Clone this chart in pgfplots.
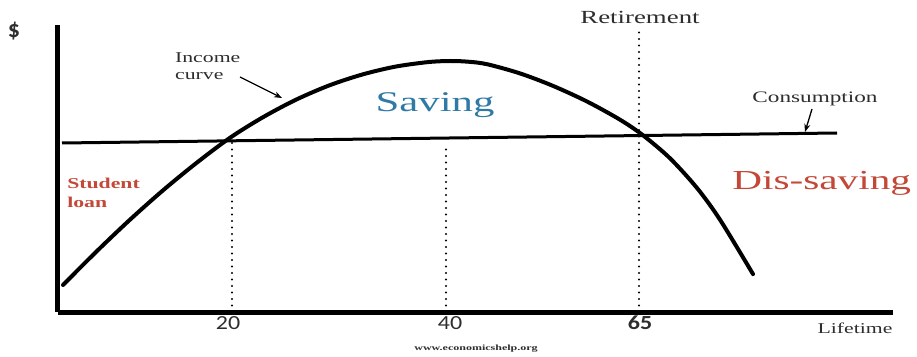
\documentclass[border=0pt]{standalone}
\usepackage{fontspec}
\setmainfont{Liberation Serif}
\newfontfamily\carlito{Carlito}
\usepackage{pgfplots}
\pgfplotsset{compat=1.18}
\usetikzlibrary{arrows.meta}

\definecolor{savblue}{RGB}{47,122,165}
\definecolor{disred}{RGB}{196,72,56}
\definecolor{txtgray}{RGB}{45,45,45}

\begin{document}
\begin{tikzpicture}
\useasboundingbox (-58pt,-44pt) rectangle (859pt,312pt);
\begin{axis}[
    x=1pt, y=1pt,
    xmin=0, xmax=835, ymin=0, ymax=287,
    axis x line=bottom, axis y line=left,
    axis line style={line width=5pt, -},
    ytick=\empty,
    xtick={170,392,582},
    xticklabels={20,40,\bfseries 65},
    major tick length=0pt,
    tick label style={font=\carlito\fontsize{20}{20}\selectfont, text=txtgray,
        anchor=center, yshift=-11pt, inner sep=0pt, xscale=1.2},
    clip=false,
]
% income curve
\addplot[black, line width=4pt, smooth, line cap=round] coordinates {
  (5,27) (38,60) (71,91.4) (104,120.8) (137,147.9) (172,174.2)
  (205,194.8) (238,212.3) (271,226.5) (304,237.4) (337,245.3)
  (370,249.9) (392,251) (410,250.3) (429,247.8) (462,238.6)
  (495,226.1) (529,210.5) (562,192.3) (585,176.7) (612,153.7)
  (639,124) (662,92.3) (695,37.9)
};
% consumption line
\addplot[black, line width=3pt] coordinates {(4,169) (779,179)};
% dotted verticals
\addplot[black, line width=2.3pt, line cap=round, dash pattern=on 0pt off 6.5pt]
  coordinates {(174,0) (174,171)};
\addplot[black, line width=2.3pt, line cap=round, dash pattern=on 0pt off 6.5pt]
  coordinates {(388,0) (388,167)};
\addplot[black, line width=2.3pt, line cap=round, dash pattern=on 0pt off 6.5pt]
  coordinates {(581,0) (581,282)};

% labels
\node[font=\carlito\bfseries\fontsize{24}{24}\selectfont, text=txtgray] at (axis cs:-44,281) {\$};
\node[font=\fontsize{18.5}{18.5}\selectfont, text=txtgray, xscale=1.45] at (axis cs:582,295) {Retirement};
\node[font=\fontsize{15}{17}\selectfont, text=txtgray, xscale=1.45, anchor=west, align=left]
  at (axis cs:112,246) {Income\\curve};
\draw[-{Stealth[length=8pt,width=6pt]}, line width=1.3pt, black] (axis cs:182,235) -- (axis cs:224,214);
\node[font=\fontsize{16}{16}\selectfont, text=txtgray, xscale=1.45] at (axis cs:757,213) {Consumption};
\draw[-{Stealth[length=8pt,width=6pt]}, line width=1.3pt, black] (axis cs:754,203) -- (axis cs:747,180);
\node[font=\fontsize{28.5}{28.5}\selectfont, text=savblue, xscale=1.5, anchor=base] at (axis cs:377,200) {Saving};
\node[font=\fontsize{27.5}{27.5}\selectfont, text=disred, xscale=1.5, anchor=base west] at (axis cs:669,122) {Dis-saving};
\node[font=\bfseries\fontsize{15}{18}\selectfont, text=disred, xscale=1.45, anchor=base west, align=left, inner sep=0pt]
  at (axis cs:9,105) {Student\\loan};
\node[font=\fontsize{15}{15}\selectfont, text=txtgray, xscale=1.45, anchor=base] at (axis cs:797,-21) {Lifetime};
\node[font=\bfseries\fontsize{8}{8}\selectfont, text=txtgray, xscale=1.5] at (axis cs:418,-37) {www.economicshelp.org};
\end{axis}
\end{tikzpicture}
\end{document}
